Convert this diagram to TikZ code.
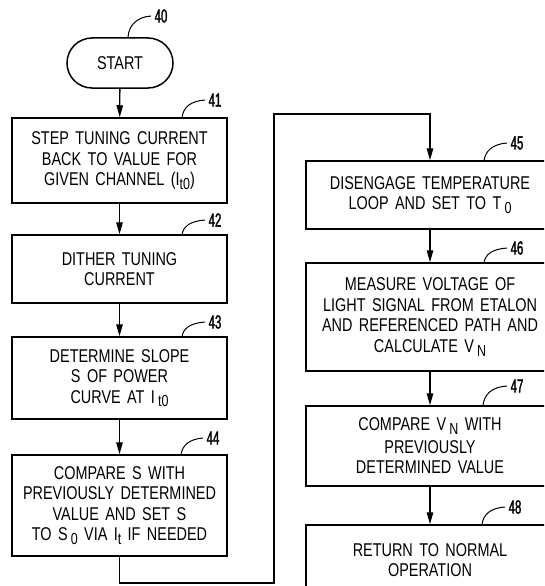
\documentclass[tikz,border=0pt]{standalone}
\usepackage{fontspec}
\setmainfont{Liberation Sans}[FakeStretch=0.78,WordSpace=1.6]
\newfontfamily\labfamily{Liberation Sans}[FakeStretch=0.6,FakeBold=1.5]
\usetikzlibrary{arrows.meta}
\newcommand\lsub[1]{\raisebox{-0.38ex}{\fontsize{16}{16}\selectfont #1}}
\tikzset{
  every node/.style={font=\fontsize{18.5}{20.5}\selectfont},
  box/.style={draw, line width=1.5pt, align=center, inner sep=0pt, minimum width=215pt},
  rbox/.style={box, minimum width=248pt},
  term/.style={draw, line width=1.5pt, rounded corners=25pt, minimum width=106pt, minimum height=50pt, inner sep=0pt},
  flow/.style={line width=1.3pt, -{Triangle[length=12pt,width=6.5pt]}},
  leader/.style={line width=1pt},
  lab/.style={font=\labfamily\fontsize{19}{19}\selectfont, anchor=west, inner sep=0pt}
}
\begin{document}
\begin{tikzpicture}[x=1pt,y=-1pt]
\useasboundingbox (0,0) rectangle (544,586);
\clip (0,0) rectangle (544,586);
% left column
\node[term] (s40) at (120,63) {START};
\node[box, minimum height=85pt] (b41) at (119.5,160.5) {STEP TUNING CURRENT\\BACK TO VALUE FOR\\GIVEN CHANNEL (I\lsub{t0})};
\node[box, minimum height=68pt] (b42) at (119.5,269) {DITHER TUNING\\CURRENT};
\node[box, minimum height=82pt] (b43) at (119.5,378) {DETERMINE SLOPE\\S OF POWER\\CURVE AT I\,\lsub{t0}};
\node[box, minimum height=101pt] (b44) at (119.5,505.5) {COMPARE S WITH\\PREVIOUSLY DETERMINED\\VALUE AND SET S\\TO S\,\lsub{0} VIA I\lsub{t} IF NEEDED};
% right column
\node[rbox, minimum height=68pt] (b45) at (430,195) {DISENGAGE TEMPERATURE\\LOOP AND SET TO T\,\lsub{0}};
\node[rbox, minimum height=108pt] (b46) at (430,317) {MEASURE VOLTAGE OF\\LIGHT SIGNAL FROM ETALON\\AND REFERENCED PATH AND\\CALCULATE V\,\lsub{N}};
\node[rbox, minimum height=80pt] (b47) at (430,446) {COMPARE V\,\lsub{N} WITH\\[2pt]PREVIOUSLY\\DETERMINED VALUE};
\node[rbox, minimum height=70pt] (b48) at (430,560) {RETURN TO NORMAL\\OPERATION};
% connectors
\draw[flow] (s40) -- (b41);
\draw[flow] (b41) -- (b42);
\draw[flow] (b42) -- (b43);
\draw[flow] (b43) -- (b44);
\coordinate (c1) at (274,583);
\coordinate (c2) at (274,114);
\draw[flow] (b44.south) |- (c1) -- (c2) -| (b45.north);
\draw[flow] (b45) -- (b46);
\draw[flow] (b46) -- (b47);
\draw[flow] (b47) -- (b48);
% reference labels
\draw[leader] (128,37) .. controls (129,25) and (137,17) .. (151,16) node[lab] (l40) {\,40};
\draw[leader] (182,118) .. controls (183,107) and (191,101) .. (205,100) node[lab] (l41) {\,41};
\draw[leader] (182,235) .. controls (183,226) and (191,221) .. (205,220) node[lab] (l42) {\,42};
\draw[leader] (182,337) .. controls (183,328) and (191,323) .. (205,322) node[lab] (l43) {\,43};
\draw[leader] (181,455) .. controls (182,445) and (190,439) .. (203,438) node[lab] (l44) {\,44};
\draw[leader] (484,161) .. controls (485,151) and (493,144) .. (507,143) node[lab] (l45) {\,45};
\draw[leader] (484,263) .. controls (485,254) and (493,249) .. (507,248) node[lab] (l46) {\,46};
\draw[leader] (483,406) .. controls (484,394) and (492,387) .. (507,386) node[lab] (l47) {\,47};
\draw[leader] (482,525) .. controls (483,514) and (491,508) .. (505,507) node[lab] (l48) {\,48};
\end{tikzpicture}
\end{document}
